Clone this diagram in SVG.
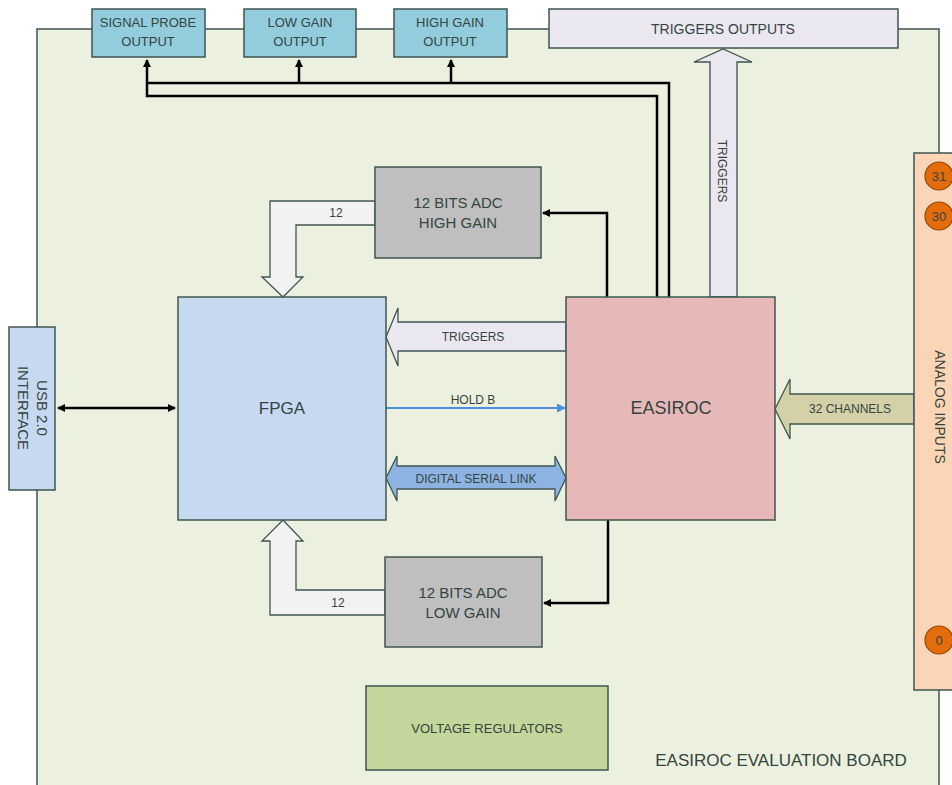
<svg xmlns="http://www.w3.org/2000/svg" width="952" height="785" viewBox="0 0 952 785">
<defs>
<marker id="ah" markerWidth="8" markerHeight="8" refX="7" refY="4" orient="auto" markerUnits="userSpaceOnUse"><path d="M0,0 L8,4 L0,8 z" fill="#000"/></marker>
<marker id="ahs" markerWidth="8" markerHeight="8" refX="1" refY="4" orient="auto" markerUnits="userSpaceOnUse"><path d="M8,0 L0,4 L8,8 z" fill="#000"/></marker>
<marker id="ahb" markerWidth="9" markerHeight="9" refX="8" refY="4.5" orient="auto" markerUnits="userSpaceOnUse"><path d="M0,0 L9,4.5 L0,9 z" fill="#4a8ee0"/></marker>
</defs>
<style>
text{font-family:"Liberation Sans",Arial,sans-serif;fill:#34443f;text-anchor:middle}
.box{stroke:#3f5550;stroke-width:1.5}
.out{fill:#93cddd}
.ln{fill:none;stroke:#000;stroke-width:2.5}
.sm{font-size:12px}
.md{font-size:13px}
.lg{font-size:15px}
.fat{stroke:#3f5550;stroke-width:1.3}
.pin{fill:#e46c0a;stroke:#984807;stroke-width:1.2}
</style>
<rect width="952" height="785" fill="#ffffff"/>
<g id="board">
<rect class="box" x="37" y="29" width="902" height="770" fill="#ebf1de"/>
<text x="781" y="766" style="font-size:17px">EASIROC EVALUATION BOARD</text>
</g>
<g id="connectors">
<polyline class="ln" points="147,60 147,96 657,96 657,297" marker-start="url(#ahs)"/>
<polyline class="ln" points="147,83 669,83 669,297"/>
<line class="ln" x1="299" y1="60" x2="299" y2="83" marker-start="url(#ahs)"/>
<line class="ln" x1="451" y1="60" x2="451" y2="83" marker-start="url(#ahs)"/>
<polyline class="ln" points="607,297 607,213 543,213" marker-end="url(#ah)"/>
<polyline class="ln" points="608,520 608,603 544,603" marker-end="url(#ah)"/>
<line class="ln" x1="58" y1="408" x2="175" y2="408" marker-start="url(#ahs)" marker-end="url(#ah)"/>
<line x1="386" y1="408" x2="565" y2="408" stroke="#4a8ee0" stroke-width="2" marker-end="url(#ahb)"/>
<polygon class="fat" fill="#ebe7f0" points="710,297 710,62 694,62 723,49 752,62 737,62 737,297"/>
<text transform="translate(718,171) rotate(90)" class="sm">TRIGGERS</text>
<polygon class="fat" fill="#ebe7f0" points="566,322 398,322 398,308 386,337 398,366 398,351 566,351"/>
<text x="473" y="341" class="sm">TRIGGERS</text>
<text x="473" y="404" class="sm">HOLD B</text>
<polygon class="fat" fill="#8db3e2" points="386,478 397,456 397,466 555,466 555,456 566,478 555,501 555,489 397,489 397,501"/>
<text x="476" y="483" class="sm">DIGITAL SERIAL LINK</text>
<polygon class="fat" fill="#d4d1a8" points="914,394 790,394 790,379 775,409 790,439 790,424 914,424"/>
<text x="850" y="413" class="sm">32 CHANNELS</text>
<polygon class="fat" fill="#f2f2f2" points="375,201 270,201 270,277 262,277 283,297 303,277 296,277 296,225 375,225"/>
<text x="336" y="217" class="sm">12</text>
<polygon class="fat" fill="#f2f2f2" points="385,615 270,615 270,541 262,541 283,520 303,541 296,541 296,590 385,590"/>
<text x="338" y="607" class="sm">12</text>
</g>
<g id="signal-probe"><rect class="box out" x="92" y="9" width="113" height="48"/><text x="148" y="27" class="md">SIGNAL PROBE</text><text x="148" y="46" class="md">OUTPUT</text></g>
<g id="low-gain-output"><rect class="box out" x="244" y="9" width="112" height="48"/><text x="300" y="27" class="md">LOW GAIN</text><text x="300" y="46" class="md">OUTPUT</text></g>
<g id="high-gain-output"><rect class="box out" x="394" y="9" width="113" height="48"/><text x="450" y="27" class="md">HIGH GAIN</text><text x="450" y="46" class="md">OUTPUT</text></g>
<g id="triggers-outputs"><rect class="box" fill="#ebe7f0" x="549" y="9" width="349" height="39"/><text x="723" y="34" style="font-size:14px">TRIGGERS OUTPUTS</text></g>
<g id="adc-high"><rect class="box" fill="#bfbfbf" x="375" y="167" width="166" height="91"/><text x="458" y="208" class="lg">12 BITS ADC</text><text x="458" y="228" class="lg">HIGH GAIN</text></g>
<g id="adc-low"><rect class="box" fill="#bfbfbf" x="385" y="557" width="157" height="90"/><text x="463" y="598" class="lg">12 BITS ADC</text><text x="463" y="618" class="lg">LOW GAIN</text></g>
<g id="fpga"><rect class="box" fill="#c6d9f1" x="178" y="297" width="208" height="223"/><text x="282" y="414" style="font-size:17px">FPGA</text></g>
<g id="easiroc"><rect class="box" fill="#e6b9b8" x="566" y="297" width="209" height="223"/><text x="671" y="414" style="font-size:18px">EASIROC</text></g>
<g id="usb"><rect class="box" fill="#c6d9f1" x="9" y="327" width="46" height="163"/><text transform="translate(37,408) rotate(90)" class="lg">USB 2.0</text><text transform="translate(18,408) rotate(90)" class="lg">INTERFACE</text></g>
<g id="analog-inputs"><rect class="box" fill="#fbd5b5" x="914" y="153" width="45" height="537"/>
<text transform="translate(935,407) rotate(90)" style="font-size:14px">ANALOG INPUTS</text>
<circle class="pin" cx="939" cy="176" r="14"/><text x="939" y="181" class="md">31</text>
<circle class="pin" cx="939" cy="216" r="14"/><text x="939" y="221" class="md">30</text>
<circle class="pin" cx="939" cy="640" r="14"/><text x="939" y="645" class="md">0</text>
</g>
<g id="voltage-regulators"><rect class="box" fill="#c3d69b" x="366" y="686" width="242" height="84"/><text x="487" y="733" class="md">VOLTAGE REGULATORS</text></g>
</svg>
